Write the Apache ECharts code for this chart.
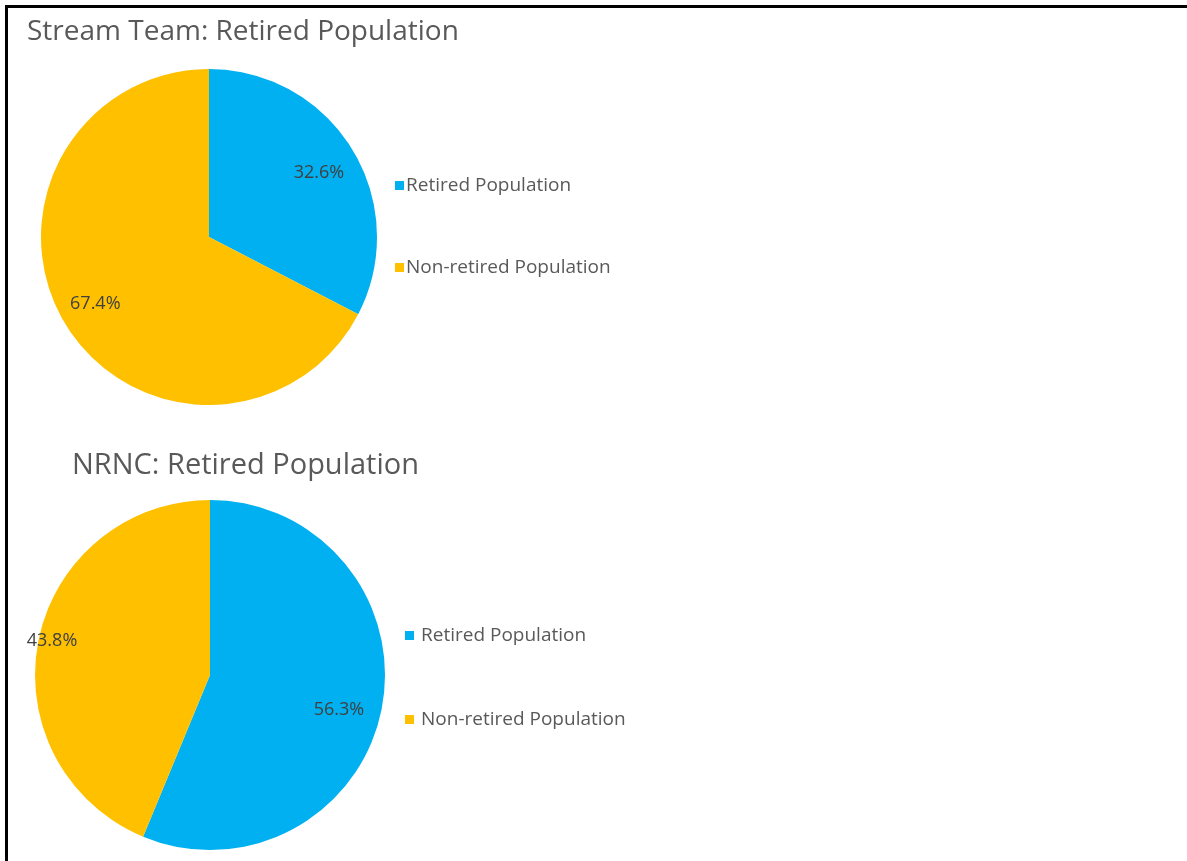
<!DOCTYPE html>
<html>
<head>
<meta charset="utf-8">
<script src="https://cdn.jsdelivr.net/npm/echarts@6/dist/echarts.min.js"></script>
<style>
  html, body { margin: 0; padding: 0; background: #fff; overflow: hidden; }
  #chart { width: 1187px; height: 861px; }
</style>
</head>
<body>
<div id="chart"></div>
<script>
// ---- data ----
const categories = ['Retired Population', 'Non-retired Population'];
const streamTeamValues = [32.6, 67.4];
const nrncValues = [56.3, 43.8];
const chartTitles = ['Stream Team: Retired Population', 'NRNC: Retired Population'];

// ---- style / layout ----
const colors = ['#00B0F0', '#FFC000'];
const pies = [
  { center: [209, 237], radius: 168, labelFrac: [0.758, 0.784], labelTurn: [1, 1] },
  { center: [210, 675], radius: 175, labelFrac: [0.764, 0.923], labelTurn: [4, 0.8] }
];

function buildData(values) {
  return categories.map((n, i) => ({ name: n, value: values[i], itemStyle: { color: colors[i] } }));
}

const chart = echarts.init(document.getElementById('chart'), null, { renderer: 'canvas' });

function labelLayoutFor(idx) {
  return function (params) {
    const p = pies[idx];
    const r = params.labelRect;
    const lx = r.x + r.width / 2, ly = r.y + r.height / 2;
    const phi = Math.atan2(ly - p.center[1], lx - p.center[0]) + p.labelTurn[params.dataIndex] * Math.PI / 180;
    const target = p.radius * p.labelFrac[params.dataIndex];
    return {
      x: p.center[0] + Math.cos(phi) * target,
      y: p.center[1] + Math.sin(phi) * target,
      align: 'center',
      verticalAlign: 'middle'
    };
  };
}

const textColor = '#595959';
const fontFamily = '"Open Sans", "Noto Sans", sans-serif';

const option = {
  animation: false,
  graphic: [
    { type: 'polyline', silent: true, z: 100,
      shape: { points: [[6.5, 861], [6.5, 6.5], [1187, 6.5]] },
      style: { stroke: '#000', lineWidth: 3, fill: null } }
  ],
  title: [
    { text: chartTitles[0], left: 22, top: 13,
      textStyle: { color: textColor, fontSize: 28, fontWeight: 'normal', fontFamily: fontFamily } },
    { text: chartTitles[1], left: 67, top: 446,
      textStyle: { color: textColor, fontSize: 29, fontWeight: 'normal', fontFamily: fontFamily } }
  ],
  legend: [
    { orient: 'vertical', left: 395, top: 176, padding: 0, itemWidth: 9, itemHeight: 9, itemGap: 63,
      icon: 'rect', data: categories,
      textStyle: { color: textColor, fontSize: 19, fontFamily: fontFamily, padding: [0, 0, 0, -3] } },
    { orient: 'vertical', left: 405, top: 626, padding: 0, itemWidth: 9, itemHeight: 9, itemGap: 65,
      icon: 'rect', data: categories,
      textStyle: { color: textColor, fontSize: 19, fontFamily: fontFamily, padding: [0, 0, 0, 2] } }
  ],
  series: [
    {
      type: 'pie', center: pies[0].center, radius: [0, pies[0].radius],
      startAngle: 90, clockwise: true, avoidLabelOverlap: false,
      emphasis: { scale: false },
      label: { show: true, position: 'inside', formatter: '{c}%', color: '#404040', fontSize: 18, fontFamily: fontFamily },
      labelLine: { show: false },
      labelLayout: labelLayoutFor(0),
      data: buildData(streamTeamValues)
    },
    {
      type: 'pie', center: pies[1].center, radius: [0, pies[1].radius],
      startAngle: 90, clockwise: true, avoidLabelOverlap: false,
      emphasis: { scale: false },
      label: { show: true, position: 'inside', formatter: '{c}%', color: '#404040', fontSize: 18, fontFamily: fontFamily },
      labelLine: { show: false },
      labelLayout: labelLayoutFor(1),
      data: buildData(nrncValues)
    }
  ]
};
chart.setOption(option);
</script>
</body>
</html>
